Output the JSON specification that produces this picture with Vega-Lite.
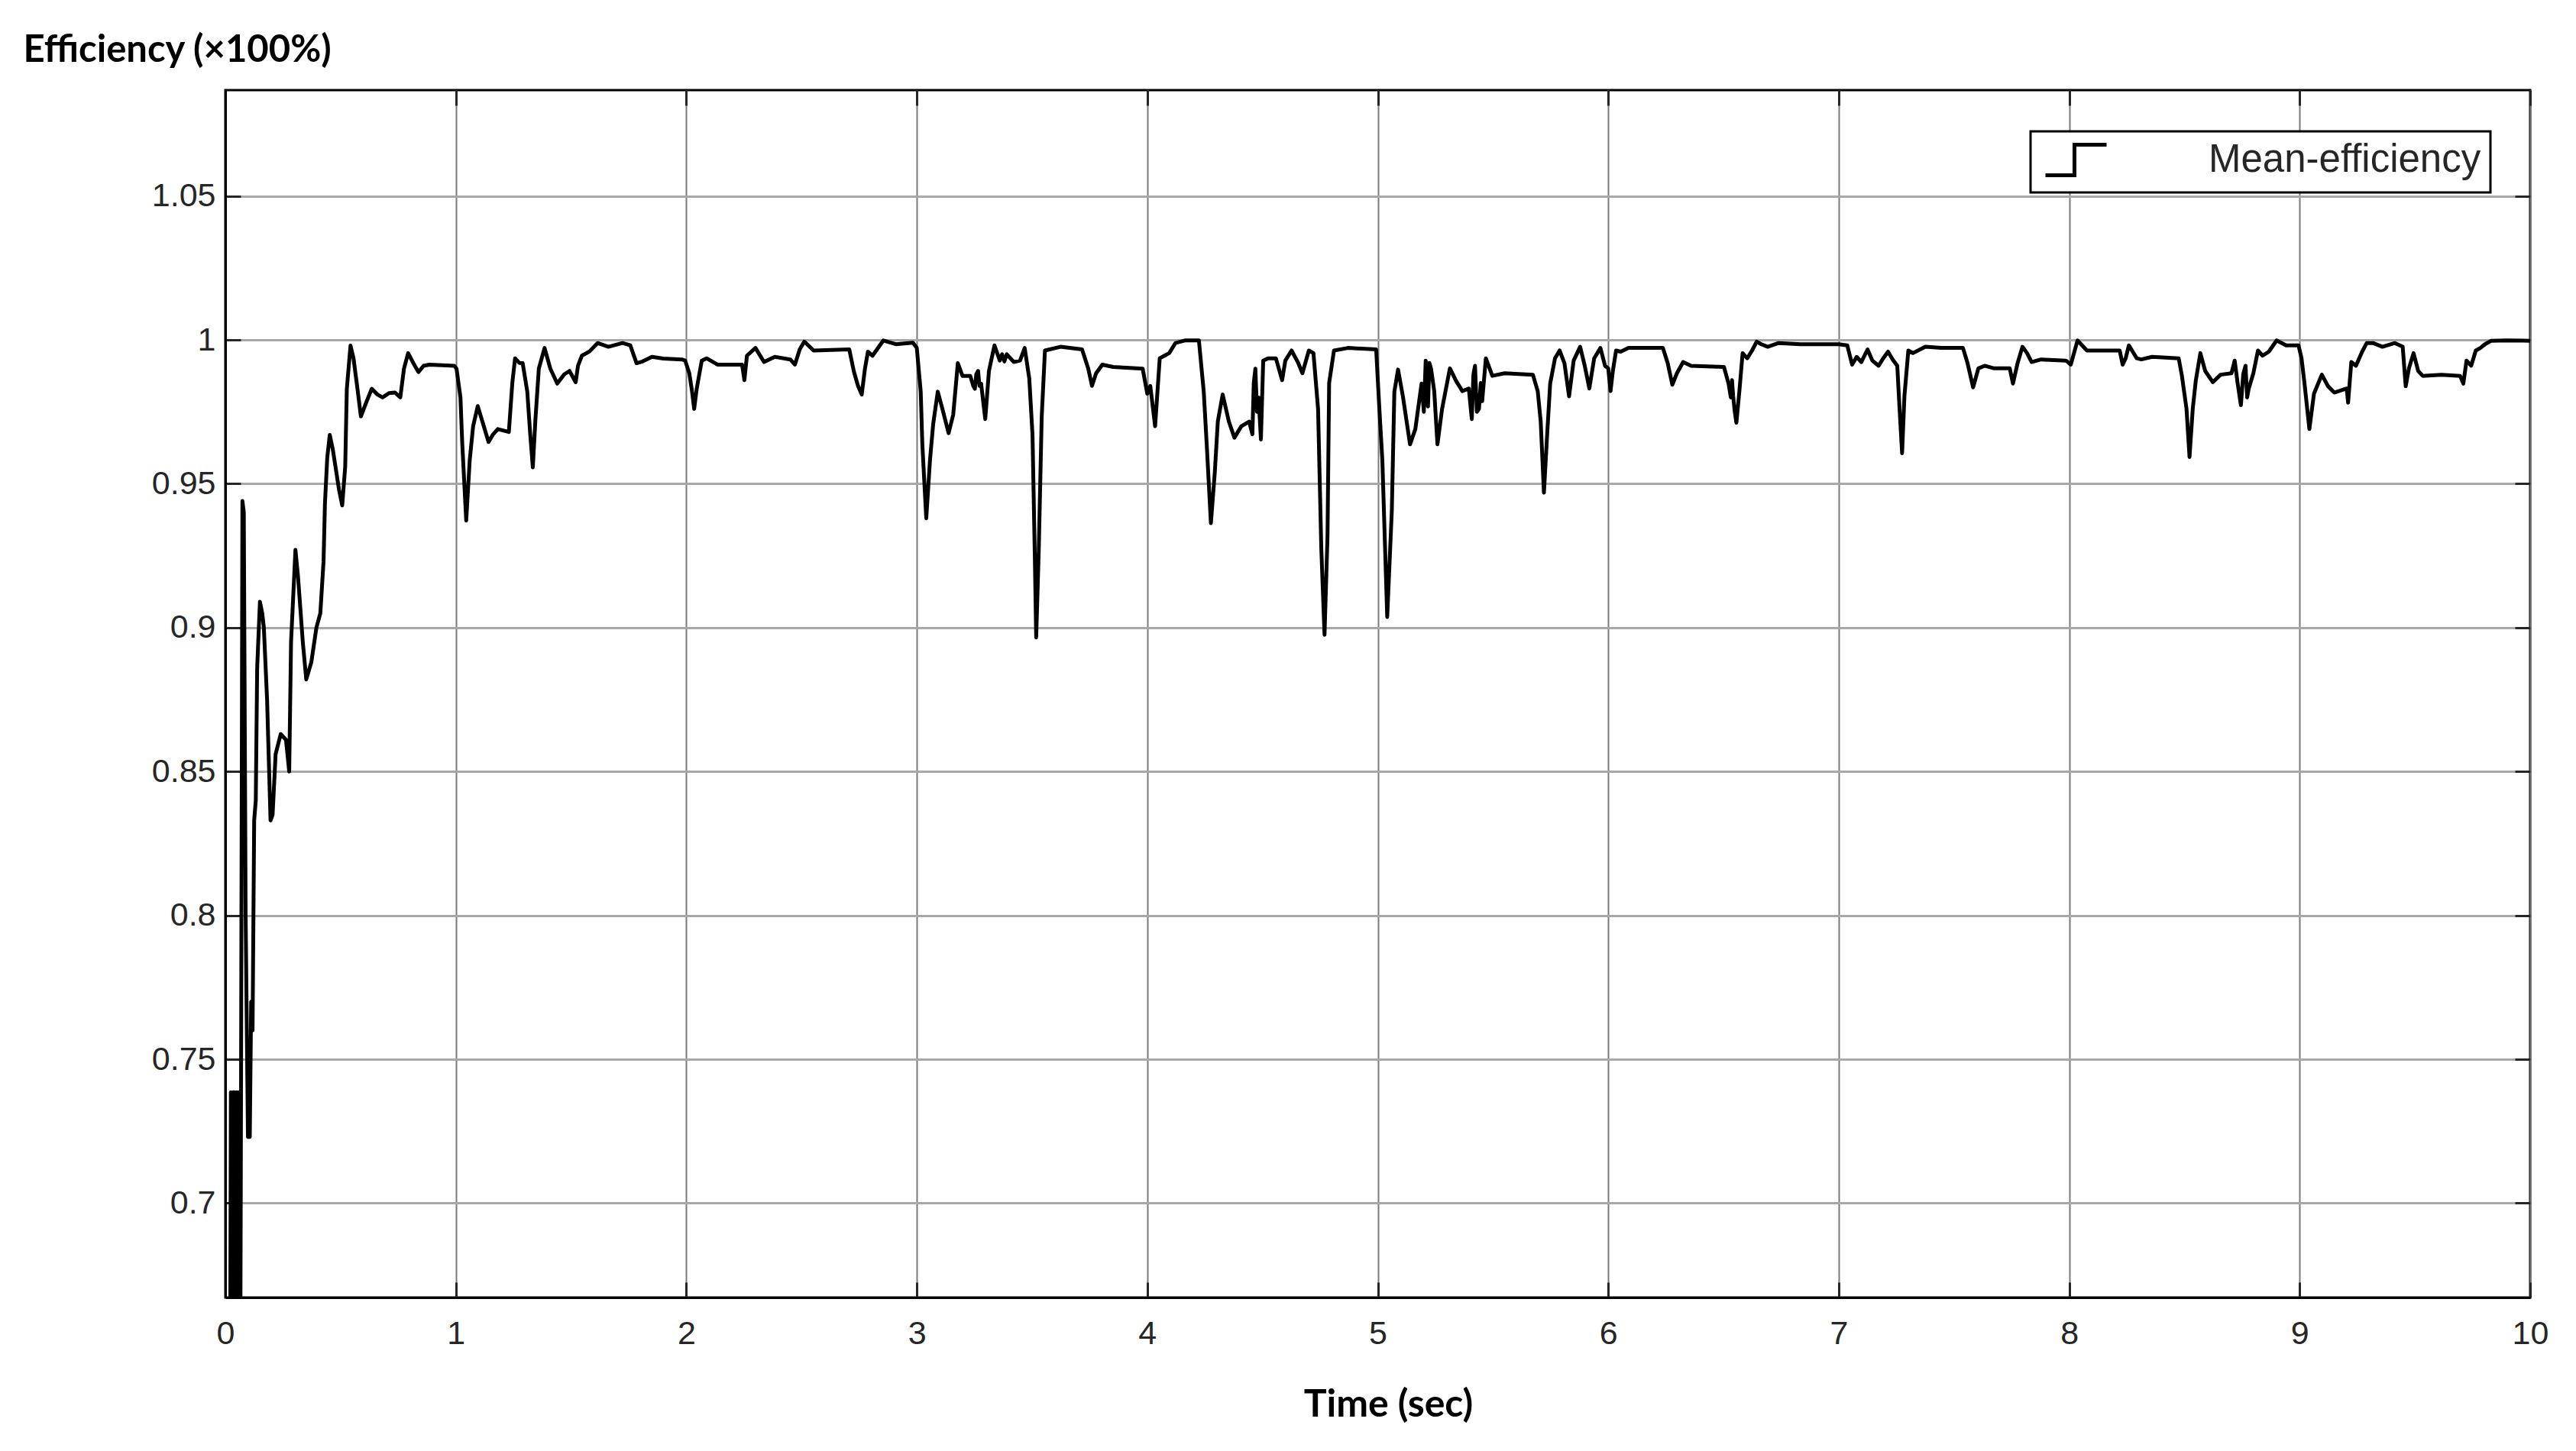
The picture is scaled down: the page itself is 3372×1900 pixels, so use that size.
{
  "$schema": "https://vega.github.io/schema/vega-lite/v6.json",
  "width": 3017,
  "height": 1581,
  "autosize": {"type": "none"},
  "padding": {"left": 295, "top": 118, "right": 60, "bottom": 201},
  "background": "white",
  "config": {"view": {"stroke": "black", "strokeWidth": 3}, "font": "Liberation Sans"},
  "data": {"values": [
    {"t":0,"eff":0.62},{"t":0.02,"eff":0.62},{"t":0.024,"eff":0.7385},{"t":0.029,"eff":0.62},{"t":0.034,"eff":0.7385},{"t":0.039,"eff":0.7385},{"t":0.044,"eff":0.62},{"t":0.049,"eff":0.7385},{"t":0.054,"eff":0.62},{"t":0.059,"eff":0.7385},{"t":0.064,"eff":0.62},{"t":0.068,"eff":0.74},{"t":0.074,"eff":0.944},{"t":0.08,"eff":0.94},{"t":0.088,"eff":0.8},{"t":0.098,"eff":0.723},{"t":0.106,"eff":0.723},{"t":0.112,"eff":0.77},{"t":0.118,"eff":0.76},{"t":0.125,"eff":0.833},{"t":0.132,"eff":0.84},{"t":0.138,"eff":0.886},{"t":0.15,"eff":0.909},{"t":0.16,"eff":0.905},{"t":0.167,"eff":0.9},{"t":0.181,"eff":0.875},{"t":0.196,"eff":0.833},{"t":0.205,"eff":0.835},{"t":0.218,"eff":0.856},{"t":0.24,"eff":0.863},{"t":0.263,"eff":0.861},{"t":0.277,"eff":0.85},{"t":0.285,"eff":0.895},{"t":0.304,"eff":0.927},{"t":0.315,"eff":0.918},{"t":0.336,"eff":0.895},{"t":0.351,"eff":0.882},{"t":0.373,"eff":0.888},{"t":0.395,"eff":0.9},{"t":0.412,"eff":0.905},{"t":0.426,"eff":0.923},{"t":0.432,"eff":0.943},{"t":0.442,"eff":0.959},{"t":0.453,"eff":0.967},{"t":0.466,"eff":0.962},{"t":0.493,"eff":0.948},{"t":0.507,"eff":0.9425},{"t":0.52,"eff":0.956},{"t":0.527,"eff":0.983},{"t":0.543,"eff":0.998},{"t":0.556,"eff":0.9936},{"t":0.57,"eff":0.985},{"t":0.588,"eff":0.9734},{"t":0.61,"eff":0.978},{"t":0.635,"eff":0.983},{"t":0.66,"eff":0.981},{"t":0.682,"eff":0.98},{"t":0.71,"eff":0.9815},{"t":0.736,"eff":0.9817},{"t":0.759,"eff":0.98},{"t":0.775,"eff":0.99},{"t":0.793,"eff":0.9954},{"t":0.815,"eff":0.992},{"t":0.838,"eff":0.9888},{"t":0.86,"eff":0.991},{"t":0.885,"eff":0.9914},{"t":0.94,"eff":0.9912},{"t":0.993,"eff":0.991},
    {"t":1.003,"eff":0.99},{"t":1.02,"eff":0.98},{"t":1.028,"eff":0.9637},{"t":1.045,"eff":0.9372},{"t":1.06,"eff":0.958},{"t":1.075,"eff":0.97},{"t":1.095,"eff":0.977},{"t":1.11,"eff":0.973},{"t":1.142,"eff":0.9645},{"t":1.16,"eff":0.967},{"t":1.182,"eff":0.969},{"t":1.23,"eff":0.968},{"t":1.245,"eff":0.985},{"t":1.257,"eff":0.9936},{"t":1.275,"eff":0.992},{"t":1.29,"eff":0.9919},{"t":1.31,"eff":0.982},{"t":1.322,"eff":0.968},{"t":1.334,"eff":0.9557},{"t":1.345,"eff":0.972},{"t":1.36,"eff":0.99},{"t":1.385,"eff":0.9972},{"t":1.41,"eff":0.99},{"t":1.44,"eff":0.9848},{"t":1.47,"eff":0.988},{"t":1.493,"eff":0.9892},{"t":1.52,"eff":0.9853},{"t":1.53,"eff":0.991},{"t":1.547,"eff":0.9945},{"t":1.58,"eff":0.996},{"t":1.615,"eff":0.9989},{"t":1.662,"eff":0.9976},{"t":1.723,"eff":0.9989},{"t":1.757,"eff":0.9981},{"t":1.784,"eff":0.9919},{"t":1.81,"eff":0.9925},{"t":1.851,"eff":0.9941},{"t":1.9,"eff":0.9935},{"t":1.98,"eff":0.9932},{"t":1.995,"eff":0.9928},
    {"t":2.013,"eff":0.9884},{"t":2.025,"eff":0.982},{"t":2.034,"eff":0.976},{"t":2.045,"eff":0.983},{"t":2.067,"eff":0.9928},{"t":2.088,"eff":0.9936},{"t":2.135,"eff":0.9914},{"t":2.242,"eff":0.9914},{"t":2.252,"eff":0.986},{"t":2.263,"eff":0.9945},{"t":2.3,"eff":0.9972},{"t":2.337,"eff":0.9923},{"t":2.384,"eff":0.9941},{"t":2.451,"eff":0.9932},{"t":2.471,"eff":0.9914},{"t":2.492,"eff":0.9967},{"t":2.512,"eff":0.9994},{"t":2.552,"eff":0.9963},{"t":2.707,"eff":0.9967},{"t":2.727,"eff":0.989},{"t":2.745,"eff":0.984},{"t":2.761,"eff":0.981},{"t":2.775,"eff":0.99},{"t":2.788,"eff":0.9959},{"t":2.808,"eff":0.9945},{"t":2.855,"eff":0.9998},{"t":2.909,"eff":0.9985},{"t":2.983,"eff":0.999},
    {"t":3.0,"eff":0.9972},{"t":3.017,"eff":0.982},{"t":3.024,"eff":0.9637},{"t":3.041,"eff":0.938},{"t":3.057,"eff":0.958},{"t":3.071,"eff":0.9707},{"t":3.091,"eff":0.982},{"t":3.111,"eff":0.976},{"t":3.138,"eff":0.9676},{"t":3.158,"eff":0.974},{"t":3.178,"eff":0.9919},{"t":3.198,"eff":0.9875},{"t":3.232,"eff":0.9875},{"t":3.245,"eff":0.984},{"t":3.252,"eff":0.983},{"t":3.258,"eff":0.988},{"t":3.266,"eff":0.9892},{"t":3.272,"eff":0.984},{"t":3.279,"eff":0.9848},{"t":3.297,"eff":0.9725},{"t":3.313,"eff":0.9892},{"t":3.337,"eff":0.9981},{"t":3.36,"eff":0.9928},{"t":3.37,"eff":0.995},{"t":3.38,"eff":0.9925},{"t":3.39,"eff":0.995},{"t":3.421,"eff":0.9923},{"t":3.448,"eff":0.9928},{"t":3.468,"eff":0.9972},{"t":3.488,"eff":0.9866},{"t":3.502,"eff":0.967},{"t":3.512,"eff":0.925},{"t":3.518,"eff":0.8966},{"t":3.529,"eff":0.9266},{"t":3.542,"eff":0.9734},{"t":3.556,"eff":0.9963},{"t":3.623,"eff":0.9976},{"t":3.717,"eff":0.9967},{"t":3.744,"eff":0.99},{"t":3.76,"eff":0.984},{"t":3.778,"eff":0.9884},{"t":3.805,"eff":0.9914},{"t":3.852,"eff":0.9906},{"t":3.98,"eff":0.99},
    {"t":4.0,"eff":0.9813},{"t":4.013,"eff":0.984},{"t":4.034,"eff":0.97},{"t":4.054,"eff":0.9936},{"t":4.075,"eff":0.9945},{"t":4.095,"eff":0.9954},{"t":4.122,"eff":0.9989},{"t":4.163,"eff":0.9998},{"t":4.224,"eff":0.9998},{"t":4.245,"eff":0.982},{"t":4.259,"eff":0.962},{"t":4.276,"eff":0.9363},{"t":4.293,"eff":0.954},{"t":4.306,"eff":0.9716},{"t":4.327,"eff":0.981},{"t":4.354,"eff":0.9716},{"t":4.378,"eff":0.966},{"t":4.408,"eff":0.97},{"t":4.442,"eff":0.9716},{"t":4.456,"eff":0.9672},{"t":4.462,"eff":0.985},{"t":4.469,"eff":0.99},{"t":4.476,"eff":0.975},{"t":4.483,"eff":0.98},{"t":4.493,"eff":0.9654},{"t":4.503,"eff":0.9928},{"t":4.524,"eff":0.9936},{"t":4.558,"eff":0.9936},{"t":4.585,"eff":0.986},{"t":4.599,"eff":0.9928},{"t":4.626,"eff":0.9963},{"t":4.653,"eff":0.9923},{"t":4.673,"eff":0.9884},{"t":4.701,"eff":0.9963},{"t":4.721,"eff":0.9954},{"t":4.741,"eff":0.976},{"t":4.755,"eff":0.9275},{"t":4.769,"eff":0.8975},{"t":4.782,"eff":0.932},{"t":4.789,"eff":0.985},{"t":4.81,"eff":0.9963},{"t":4.871,"eff":0.9972},{"t":4.993,"eff":0.9967},
    {"t":5.007,"eff":0.976},{"t":5.02,"eff":0.958},{"t":5.041,"eff":0.9037},{"t":5.061,"eff":0.9407},{"t":5.072,"eff":0.982},{"t":5.088,"eff":0.9897},{"t":5.109,"eff":0.9804},{"t":5.14,"eff":0.9637},{"t":5.163,"eff":0.969},{"t":5.19,"eff":0.9848},{"t":5.2,"eff":0.975},{"t":5.208,"eff":0.9928},{"t":5.213,"eff":0.978},{"t":5.218,"eff":0.9769},{"t":5.224,"eff":0.992},{"t":5.231,"eff":0.9901},{"t":5.245,"eff":0.9822},{"t":5.259,"eff":0.9637},{"t":5.279,"eff":0.976},{"t":5.313,"eff":0.9901},{"t":5.34,"eff":0.9857},{"t":5.367,"eff":0.9822},{"t":5.395,"eff":0.9831},{"t":5.408,"eff":0.9725},{"t":5.415,"eff":0.988},{"t":5.422,"eff":0.991},{"t":5.43,"eff":0.975},{"t":5.439,"eff":0.976},{"t":5.447,"eff":0.985},{"t":5.453,"eff":0.9787},{"t":5.469,"eff":0.9936},{"t":5.497,"eff":0.9875},{"t":5.551,"eff":0.9884},{"t":5.673,"eff":0.9879},{"t":5.694,"eff":0.9822},{"t":5.707,"eff":0.9716},{"t":5.721,"eff":0.9469},{"t":5.735,"eff":0.9672},{"t":5.748,"eff":0.9848},{"t":5.769,"eff":0.9936},{"t":5.789,"eff":0.9963},{"t":5.81,"eff":0.9919},{"t":5.83,"eff":0.9804},{"t":5.85,"eff":0.9928},{"t":5.878,"eff":0.9976},{"t":5.898,"eff":0.991},{"t":5.918,"eff":0.9831},{"t":5.939,"eff":0.9936},{"t":5.966,"eff":0.9972},{"t":5.986,"eff":0.991},
    {"t":6.0,"eff":0.9901},{"t":6.01,"eff":0.9822},{"t":6.02,"eff":0.9892},{"t":6.034,"eff":0.9963},{"t":6.054,"eff":0.9959},{"t":6.088,"eff":0.9972},{"t":6.156,"eff":0.9972},{"t":6.237,"eff":0.9972},{"t":6.258,"eff":0.9919},{"t":6.278,"eff":0.9844},{"t":6.298,"eff":0.9884},{"t":6.325,"eff":0.9923},{"t":6.359,"eff":0.991},{"t":6.427,"eff":0.9908},{"t":6.502,"eff":0.9906},{"t":6.522,"eff":0.9848},{"t":6.532,"eff":0.98},{"t":6.537,"eff":0.986},{"t":6.542,"eff":0.9804},{"t":6.549,"eff":0.975},{"t":6.556,"eff":0.9712},{"t":6.569,"eff":0.9822},{"t":6.583,"eff":0.9954},{"t":6.603,"eff":0.9936},{"t":6.624,"eff":0.9963},{"t":6.644,"eff":0.9994},{"t":6.664,"eff":0.9985},{"t":6.692,"eff":0.9976},{"t":6.739,"eff":0.9989},{"t":6.834,"eff":0.9985},
    {"t":7.0,"eff":0.9985},{"t":7.037,"eff":0.9981},{"t":7.058,"eff":0.9914},{"t":7.078,"eff":0.9941},{"t":7.098,"eff":0.9923},{"t":7.125,"eff":0.9967},{"t":7.146,"eff":0.9928},{"t":7.173,"eff":0.991},{"t":7.193,"eff":0.9936},{"t":7.214,"eff":0.9959},{"t":7.234,"eff":0.9932},{"t":7.254,"eff":0.991},{"t":7.264,"eff":0.976},{"t":7.275,"eff":0.9606},{"t":7.285,"eff":0.9804},{"t":7.302,"eff":0.9963},{"t":7.322,"eff":0.9954},{"t":7.376,"eff":0.9976},{"t":7.444,"eff":0.9972},{"t":7.539,"eff":0.9972},{"t":7.559,"eff":0.9919},{"t":7.583,"eff":0.9835},{"t":7.606,"eff":0.9901},{"t":7.633,"eff":0.991},{"t":7.674,"eff":0.9901},{"t":7.742,"eff":0.9901},{"t":7.756,"eff":0.9848},{"t":7.776,"eff":0.9919},{"t":7.797,"eff":0.9976},{"t":7.817,"eff":0.9954},{"t":7.837,"eff":0.9923},{"t":7.878,"eff":0.9932},{"t":7.986,"eff":0.9928},
    {"t":8.007,"eff":0.9914},{"t":8.036,"eff":0.9998},{"t":8.077,"eff":0.9963},{"t":8.144,"eff":0.9963},{"t":8.219,"eff":0.9963},{"t":8.232,"eff":0.9914},{"t":8.245,"eff":0.9936},{"t":8.259,"eff":0.9981},{"t":8.293,"eff":0.9936},{"t":8.313,"eff":0.9932},{"t":8.36,"eff":0.9941},{"t":8.475,"eff":0.9936},{"t":8.489,"eff":0.9875},{"t":8.509,"eff":0.976},{"t":8.522,"eff":0.9593},{"t":8.536,"eff":0.976},{"t":8.549,"eff":0.9857},{"t":8.569,"eff":0.9954},{"t":8.59,"eff":0.9892},{"t":8.623,"eff":0.9853},{"t":8.657,"eff":0.9879},{"t":8.704,"eff":0.9884},{"t":8.718,"eff":0.9928},{"t":8.731,"eff":0.9848},{"t":8.745,"eff":0.9773},{"t":8.755,"eff":0.988},{"t":8.765,"eff":0.991},{"t":8.772,"eff":0.98},{"t":8.779,"eff":0.9831},{"t":8.799,"eff":0.9884},{"t":8.819,"eff":0.9963},{"t":8.839,"eff":0.9945},{"t":8.866,"eff":0.9959},{"t":8.9,"eff":0.9998},{"t":8.941,"eff":0.9981},{"t":8.995,"eff":0.9981},
    {"t":9.008,"eff":0.9936},{"t":9.021,"eff":0.9848},{"t":9.042,"eff":0.969},{"t":9.062,"eff":0.9813},{"t":9.096,"eff":0.9879},{"t":9.123,"eff":0.9839},{"t":9.15,"eff":0.9817},{"t":9.204,"eff":0.9831},{"t":9.21,"eff":0.9782},{"t":9.224,"eff":0.9923},{"t":9.244,"eff":0.991},{"t":9.271,"eff":0.9959},{"t":9.291,"eff":0.9989},{"t":9.318,"eff":0.9989},{"t":9.359,"eff":0.9976},{"t":9.413,"eff":0.9989},{"t":9.447,"eff":0.9976},{"t":9.46,"eff":0.9839},{"t":9.474,"eff":0.9901},{"t":9.494,"eff":0.9954},{"t":9.514,"eff":0.9892},{"t":9.534,"eff":0.9875},{"t":9.615,"eff":0.9879},{"t":9.696,"eff":0.9875},{"t":9.71,"eff":0.9848},{"t":9.724,"eff":0.9928},{"t":9.744,"eff":0.991},{"t":9.764,"eff":0.9963},{"t":9.784,"eff":0.9972},{"t":9.804,"eff":0.9985},{"t":9.831,"eff":0.9997},{"t":9.899,"eff":0.9998},{"t":10.0,"eff":0.9997}
  ]},
  "layer": [
    {
      "mark": {"type": "line", "color": "black", "strokeWidth": 5, "clip": true, "strokeJoin": "round"},
      "encoding": {
        "x": {"field": "t", "type": "quantitative",
          "scale": {"domain": [0, 10], "nice": false, "zero": false},
          "axis": {"title": "Time (sec)", "values": [0,1,2,3,4,5,6,7,8,9,10], "format": "d", "labelFlush": false,
            "labelFont": "Liberation Sans", "labelFontSize": 43, "labelColor": "#262626", "labelBaseline": "middle", "labelPadding": 67,
            "tickSize": -20, "tickColor": "#262626", "tickWidth": 3,
            "domainColor": "black", "domainWidth": 3,
            "gridColor": "#7a7a7a", "gridWidth": 2,
            "titleFont": "Lato", "titleFontWeight": "bold", "titleFontSize": 50, "titleColor": "black",
            "titleX": 1522, "titleY": 140, "titleAlign": "center", "titleBaseline": "middle"}},
        "y": {"field": "eff", "type": "quantitative",
          "scale": {"domain": [0.6672, 1.0868], "nice": false, "zero": false},
          "axis": {"title": "Efficiency (×100%)", "values": [0.7,0.75,0.8,0.85,0.9,0.95,1,1.05], "format": "~g", "labelFlush": false,
            "labelFont": "Liberation Sans", "labelFontSize": 43, "labelColor": "#262626", "labelPadding": 33,
            "tickSize": -20, "tickColor": "#262626", "tickWidth": 3,
            "domainColor": "black", "domainWidth": 3,
            "gridColor": "#a8a8a8", "gridWidth": 3,
            "titleFont": "Lato", "titleFontWeight": "bold", "titleFontSize": 49, "titleColor": "black",
            "titleAngle": 0, "titleX": -265, "titleY": -53, "titleAlign": "left", "titleBaseline": "middle"}},
        "color": {"datum": "Mean-efficiency", "scale": {"range": ["#000000"]},
          "legend": {"title": null, "orient": "none", "legendX": 2363, "legendY": 54,
            "symbolType": "M-2,1H-0.1V-1H2", "symbolSize": 1600, "symbolStrokeWidth": 5,
            "symbolStrokeColor": "black", "symbolFillColor": "transparent", "symbolOffset": 22,
            "labelFont": "Liberation Sans", "labelFontSize": 51, "labelColor": "#262626", "labelOffset": 148,
            "padding": 12, "strokeColor": "black", "fillColor": "white",
            "labelLimit": 1000,
            "encode": {"legend": {"update": {"strokeWidth": {"value": 3}}}}}}
      }
    },
    {
      "mark": {"type": "line", "opacity": 0},
      "encoding": {
        "x": {"field": "t", "type": "quantitative",
          "axis": {"orient": "top", "labels": false, "title": null, "grid": false, "domain": false,
            "values": [0,1,2,3,4,5,6,7,8,9,10], "tickSize": -20, "tickColor": "#262626", "tickWidth": 3}},
        "y": {"field": "eff", "type": "quantitative",
          "axis": {"orient": "right", "labels": false, "title": null, "grid": false, "domain": false,
            "values": [0.7,0.75,0.8,0.85,0.9,0.95,1,1.05], "tickSize": -20, "tickColor": "#262626", "tickWidth": 3}}
      }
    }
  ],
  "resolve": {"axis": {"x": "independent", "y": "independent"}}
}
